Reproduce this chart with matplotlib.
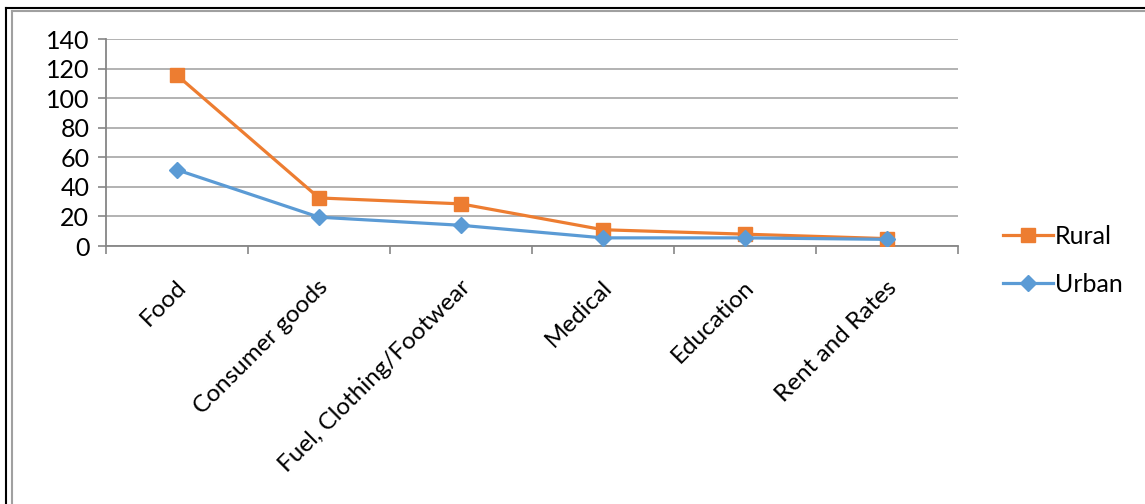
import matplotlib.pyplot as plt
from matplotlib.lines import Line2D

categories = ["Food", "Consumer goods", "Fuel, Clothing/Footwear",
              "Medical", "Education", "Rent and Rates"]
rural = [115.5, 32.5, 28.5, 11, 8, 5]
urban = [51.5, 19.5, 14, 5.5, 5.5, 4.5]
yticks = [0, 20, 40, 60, 80, 100, 120, 140]

orange = "#ED7D31"
blue = "#5B9BD5"

plt.rcParams["font.family"] = ["Lato", "DejaVu Sans"]

fig = plt.figure(figsize=(11.45, 5.04), dpi=100)
ax = fig.add_axes([106 / 1145, 1 - 246 / 504, (958 - 106) / 1145, (246 - 39) / 504])

x = list(range(len(categories)))
ax.plot(x, rural, color=orange, lw=2.3, marker="s", ms=10, label="Rural", zorder=3)
ax.plot(x, urban, color=blue, lw=2.3, marker="D", ms=8, label="Urban", zorder=3)

ax.set_xlim(-0.5, len(categories) - 0.5)
ax.set_ylim(0, 140)
ax.set_yticks(yticks)
ax.set_yticklabels([str(v) for v in yticks], fontsize=18)
ax.grid(axis="y", color="#A6A6A6", lw=1.2)
ax.set_axisbelow(True)

# category labels slanted at 45 degrees, boundaries carry the tick marks
ax.set_xticks([i - 0.5 for i in range(len(categories) + 1)])
ax.set_xticklabels([])
for i, name in enumerate(categories):
    ax.annotate(name, xy=(i, 0), xycoords=("data", "axes fraction"),
                xytext=(-1, -22), textcoords="offset points",
                rotation=45, rotation_mode="anchor", ha="right", va="top",
                fontsize=17.5)

for side in ["top", "right"]:
    ax.spines[side].set_visible(False)
for side in ["left", "bottom"]:
    ax.spines[side].set_color("#868686")
    ax.spines[side].set_linewidth(1.3)
ax.tick_params(axis="both", colors="#868686", length=6, width=1.2, labelcolor="black")
ax.tick_params(axis="y", pad=6)

handles = [Line2D([], [], color=orange, lw=2.3, marker="s", ms=10),
           Line2D([], [], color=blue, lw=2.3, marker="D", ms=8)]
fig.legend(handles, ["Rural", "Urban"], loc="upper left",
           bbox_to_anchor=(980 / 1145, 1 - 202 / 504), frameon=False,
           fontsize=18, handlelength=2.0, handletextpad=0.1, labelspacing=1.0)

# frame along the top and left edge
fig.add_artist(Line2D([6 / 1145, 1], [1 - 8 / 504, 1 - 8 / 504], color="black", lw=1.5))
fig.add_artist(Line2D([6 / 1145, 6 / 1145], [0, 1 - 8 / 504], color="black", lw=1.5))
fig.add_artist(Line2D([12 / 1145, 1], [1 - 11 / 504, 1 - 11 / 504], color="#A0A0A0", lw=1.5))
fig.add_artist(Line2D([12 / 1145, 12 / 1145], [0, 1 - 11 / 504], color="#A0A0A0", lw=1.5))

fig.savefig("out.png", dpi=100)
